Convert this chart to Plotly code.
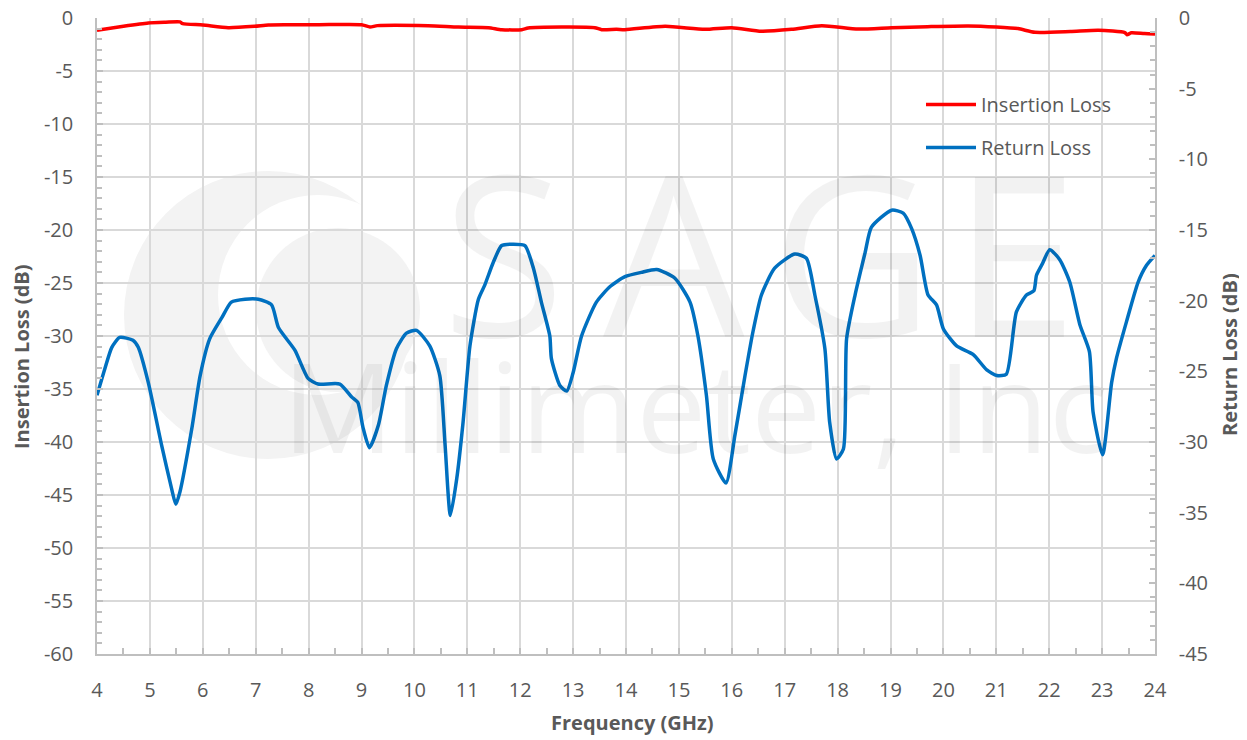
import plotly.graph_objects as go

# ---------------- data ----------------
il_freq = [4.0, 4.5, 4.97, 5.3, 5.57, 5.62, 6.0, 6.48, 6.98, 7.24, 7.6, 8.2, 9.0, 9.16, 9.3,
           10.26, 10.83, 11.4, 11.65, 12.03, 12.15, 12.78, 13.41, 13.54, 13.82, 13.98, 14.74,
           15.49, 16.0, 16.56, 17.13, 17.7, 18.39, 19.02, 19.7, 20.47, 21.0, 21.41, 21.73,
           22.4, 22.93, 23.43, 23.47, 23.55, 23.8, 24.0]
il_db = [-1.16, -0.78, -0.47, -0.40, -0.37, -0.53, -0.66, -0.91, -0.78, -0.66, -0.64, -0.63,
         -0.63, -0.85, -0.72, -0.72, -0.85, -0.91, -1.10, -1.10, -0.94, -0.85, -0.91, -1.10,
         -1.07, -1.10, -0.78, -1.07, -0.91, -1.25, -1.07, -0.72, -1.04, -0.91, -0.82, -0.75,
         -0.85, -1.00, -1.35, -1.28, -1.16, -1.38, -1.58, -1.40, -1.47, -1.50]

rl_freq = [4.0, 4.15, 4.28, 4.43, 4.68, 4.78, 4.97, 5.22, 5.41, 5.49, 5.57, 5.79, 5.95, 6.13,
           6.36, 6.54, 6.80, 7.05, 7.30, 7.43, 7.74, 7.99, 8.18, 8.59, 8.81, 8.93, 9.03, 9.15,
           9.32, 9.47, 9.66, 9.85, 10.04, 10.29, 10.48, 10.58, 10.68, 10.80, 10.92, 11.05,
           11.21, 11.33, 11.49, 11.65, 11.87, 12.09, 12.25, 12.40, 12.56, 12.59, 12.75, 12.88,
           13.00, 13.16, 13.44, 13.70, 13.98, 14.29, 14.58, 14.92, 15.21, 15.36, 15.52, 15.65,
           15.89, 16.06, 16.25, 16.40, 16.56, 16.81, 17.19, 17.41, 17.57, 17.76, 17.85, 17.98,
           18.11, 18.17, 18.33, 18.52, 18.64, 19.02, 19.24, 19.40, 19.56, 19.71, 19.87, 20.00,
           20.25, 20.56, 20.82, 21.01, 21.19, 21.38, 21.57, 21.71, 21.76, 21.87, 22.01, 22.20,
           22.39, 22.58, 22.76, 22.83, 23.01, 23.18, 23.27, 23.46, 23.68, 23.84, 24.0]
rl_db = [-26.7, -24.8, -23.3, -22.6, -22.8, -23.3, -25.8, -30.2, -33.3, -34.4, -33.5, -29.1,
         -25.3, -22.7, -21.2, -20.1, -19.9, -19.9, -20.3, -21.9, -23.5, -25.5, -25.9, -25.9,
         -26.8, -27.2, -29.0, -30.4, -28.8, -26.0, -23.4, -22.3, -22.1, -23.2, -25.3, -30.2,
         -35.2, -32.6, -28.6, -23.2, -19.9, -18.9, -17.3, -16.1, -16.0, -16.1, -17.7, -20.1,
         -22.5, -24.1, -26.0, -26.4, -25.1, -22.5, -20.1, -19.0, -18.3, -18.0, -17.8, -18.4,
         -20.1, -22.5, -26.7, -31.2, -32.9, -29.5, -25.3, -22.2, -19.6, -17.7, -16.7, -17.0,
         -19.6, -23.4, -28.6, -31.2, -30.5, -22.7, -19.6, -16.6, -14.8, -13.6, -13.8, -14.9,
         -16.8, -19.6, -20.3, -22.0, -23.2, -23.8, -24.9, -25.3, -25.2, -20.8, -19.6, -19.3,
         -18.2, -17.4, -16.4, -17.1, -18.7, -21.7, -23.6, -27.9, -30.9, -25.8, -24.1, -21.5,
         -18.7, -17.5, -16.8]

x_ticks = list(range(4, 25))
x_ticktext = [str(v) for v in x_ticks]
il_ticks = list(range(-60, 1, 5))
il_ticktext = [str(v) for v in il_ticks]
rl_ticks = list(range(-45, 1, 5))
rl_ticktext = [str(v) for v in rl_ticks]

series_names = ["Insertion Loss", "Return Loss"]
axis_titles = {"x": "Frequency (GHz)", "y": "Insertion Loss (dB)", "y2": "Return Loss (dB)"}
watermark_big = "SAGE"
watermark_small = "Millimeter, Inc"

# ---------------- layout helpers ----------------
# the page body adds an 8 px margin, so the figure is shrunk and positioned accordingly
OFF = 8
W, H = 1247 - OFF, 740 - OFF
L, T = 97 - OFF, 18 - OFF
R = W - (1155 - OFF)
B = H - (654 - OFF)
PW, PH = W - L - R, H - T - B


def px(x):  # screenshot x -> paper
    return (x - OFF - L) / PW


def py(y):  # screenshot y -> paper
    return (H - B - (y - OFF)) / PH


TXT = "#595959"
GRID = "#D9D9D9"
AXL = "#BFBFBF"
FONT = "Open Sans"

fig = go.Figure()
fig.add_trace(go.Scatter(x=il_freq, y=il_db, name=series_names[0], mode="lines",
                         line=dict(color="#FF0000", width=3.5, shape="spline", smoothing=0.6),
                         legendgroup="a", yaxis="y"))
fig.add_trace(go.Scatter(x=rl_freq, y=rl_db, name=series_names[1], mode="lines",
                         line=dict(color="#0070C0", width=3.5, shape="spline", smoothing=0.6),
                         legendgroup="b", yaxis="y2"))

# watermark logo (decorative)
shapes = []
def circle(cx, cy, r, color):
    return dict(type="circle", xref="paper", yref="paper", layer="below",
                x0=px(cx - r), x1=px(cx + r), y0=py(cy + r), y1=py(cy - r),
                fillcolor=color, line=dict(width=0))
shapes.append(circle(268, 315, 144, "#F3F3F3"))
shapes.append(circle(318, 295, 100, "#FFFFFF"))
shapes.append(circle(338, 310, 82, "#F3F3F3"))

annotations = []
wm_color = "rgba(0,0,0,0.05)"
for ch, cx in zip(watermark_big, [503, 674, 852, 1015]):
    annotations.append(dict(text=ch, xref="paper", yref="paper", x=px(cx), y=py(250),
                            xanchor="center", yanchor="middle", showarrow=False,
                            font=dict(family=FONT, size=224, color=wm_color)))
annotations.append(dict(text=watermark_small, xref="paper", yref="paper", x=px(280), y=py(405),
                        xanchor="left", yanchor="middle", showarrow=False,
                        font=dict(family=FONT, size=125, color=wm_color)))

# axis titles
annotations.append(dict(text="<b>%s</b>" % axis_titles["y"], xref="paper", yref="paper",
                        x=px(22), y=py(357), textangle=-90, showarrow=False,
                        xanchor="center", yanchor="middle",
                        font=dict(family=FONT, size=20, color=TXT)))
annotations.append(dict(text="<b>%s</b>" % axis_titles["y2"], xref="paper", yref="paper",
                        x=px(1229), y=py(355), textangle=-90, showarrow=False,
                        xanchor="center", yanchor="middle",
                        font=dict(family=FONT, size=20, color=TXT)))
annotations.append(dict(text="<b>%s</b>" % axis_titles["x"], xref="paper", yref="paper",
                        x=px(632), y=py(722), showarrow=False,
                        xanchor="center", yanchor="middle",
                        font=dict(family=FONT, size=20, color=TXT)))

common_axis = dict(showline=True, linecolor=AXL, linewidth=1.5,
                   ticks="inside", ticklen=6, tickcolor=AXL, tickwidth=1.5,
                   zeroline=False, fixedrange=True, automargin=False,
                   ticklabeloverflow="allow")

fig.update_layout(
    template="none",
    width=W, height=H,
    margin=dict(l=L, r=R, t=T, b=B, autoexpand=False),
    paper_bgcolor="white", plot_bgcolor="rgba(0,0,0,0)",
    font=dict(family=FONT, size=20, color=TXT),
    shapes=shapes, annotations=annotations,
    showlegend=True,
    legend=dict(x=px(921), y=py(85), xanchor="left", yanchor="top",
                bgcolor="rgba(0,0,0,0)", font=dict(family=FONT, size=20, color=TXT),
                traceorder="grouped", tracegroupgap=14, itemwidth=50),
    xaxis=dict(range=[4, 24], tickvals=x_ticks, ticktext=x_ticktext,
               showgrid=True, gridcolor=GRID, gridwidth=1.5,
               minor=dict(dtick=0.5, tick0=4, ticks="inside", ticklen=6, tickcolor=AXL, showgrid=False),
               ticklabelstandoff=17, **common_axis),
    yaxis=dict(range=[-60, 0], tickvals=il_ticks, ticktext=il_ticktext,
               showgrid=True, gridcolor=GRID, gridwidth=1.5,
               minor=dict(dtick=1, tick0=0, ticks="inside", ticklen=5, tickcolor=AXL, showgrid=False),
               ticklabelstandoff=18, **common_axis),
    yaxis2=dict(range=[-45, 0], tickvals=rl_ticks, ticktext=rl_ticktext,
                overlaying="y", side="right", showgrid=False,
                minor=dict(dtick=1, tick0=0, ticks="inside", ticklen=5, tickcolor=AXL, showgrid=False),
                ticklabelstandoff=18, **common_axis),
)

fig.write_html("out.html")
